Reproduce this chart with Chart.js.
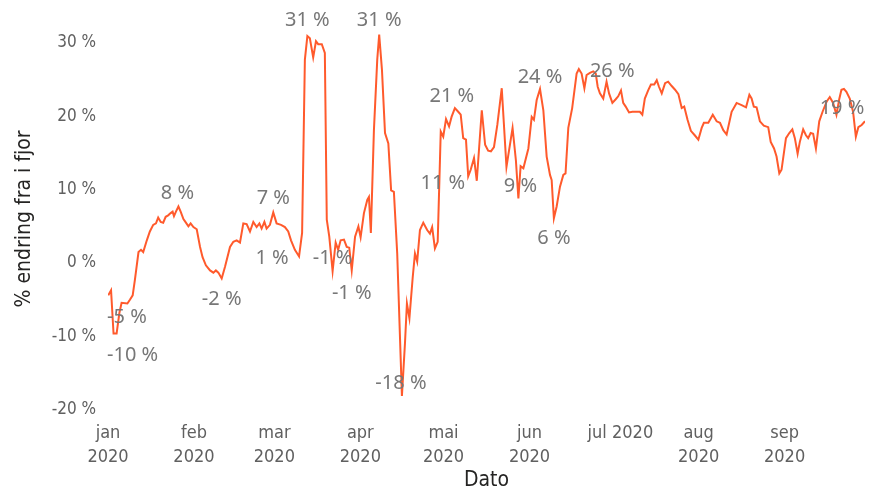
<!DOCTYPE html>
<html>
<head>
<meta charset="utf-8">
<script src="https://cdn.jsdelivr.net/npm/chart.js@4"></script>
<style>
  html, body { margin: 0; padding: 0; background: #fff; }
  #wrap { width: 870px; height: 493px; position: relative; }
</style>
</head>
<body>
<div id="wrap"><canvas id="lineChart"></canvas></div>
<script>
// day of year 2020 (0 = 1 jan) and % change from last year
const days = [0.1, 1.1, 2.0, 3.1, 4.1, 4.9, 7.0, 7.9, 8.9, 9.7, 11.0, 11.9, 12.7, 14.0, 15.1, 16.3, 17.3, 18.1, 19.0, 19.9,
  20.8, 21.7, 22.6, 23.3, 23.8, 24.5, 25.4, 26.2, 27.2, 28.1, 29.0, 29.8, 30.8, 32.0, 33.2, 34.1, 35.3, 36.8, 38.0, 38.9,
  39.8, 41.0, 42.2, 44.0, 45.2, 46.4, 47.6, 48.8, 50.0, 51.2, 52.4, 53.6, 54.6, 55.4, 56.4, 57.2, 58.4, 59.6, 60.8, 62.4,
  63.8, 65.0, 66.0, 67.4, 68.9, 70.0, 71.0, 71.9, 72.8, 74.0, 75.0, 75.8, 77.1, 78.2, 78.9, 79.8, 81.0, 82.1, 83.0, 83.9,
  85.1, 86.1, 87.0, 87.9, 89.1, 90.3, 91.1, 92.3, 93.5, 94.1, 94.8, 95.9, 97.1, 97.8, 98.8, 99.9, 101.1, 102.1, 103.1, 104.3,
  106.0, 107.1, 107.8, 108.7, 109.9, 110.7, 111.5, 112.5, 113.7, 115.1, 116.1, 116.9, 117.9, 118.9, 120.0, 120.9, 121.9, 123.0, 123.9, 125.1,
  126.3, 127.2, 128.1, 129.1, 129.9, 130.8, 132.0, 133.0, 134.8, 136.0, 137.1, 138.1, 139.2, 140.4, 142.0, 143.7, 145.9, 147.1, 148.0, 148.8,
  149.8, 151.6, 152.8, 153.6, 154.6, 155.8, 157.0, 158.2, 159.4, 160.0, 160.8, 161.8, 163.0, 164.2, 165.0, 166.0, 167.4, 169.0, 169.8, 170.8,
  171.8, 172.6, 173.8, 175.0, 175.9, 176.6, 177.4, 178.6, 179.8, 180.7, 181.9, 183.1, 184.0, 185.0, 185.8, 186.7, 187.9, 189.1, 190.6, 191.8,
  192.7, 193.6, 194.8, 195.8, 197.0, 197.9, 198.7, 199.7, 200.9, 202.0, 203.3, 204.5, 205.7, 206.9, 207.8, 209.0, 210.2, 211.6, 212.9, 214.1,
  214.9, 216.5, 218.1, 219.5, 220.7, 221.9, 223.1, 224.9, 226.7, 228.5, 230.1, 231.3, 232.1, 232.9, 233.9, 235.1, 236.5, 238.1, 239.0, 240.2,
  241.1, 242.1, 242.9, 244.5, 245.7, 246.8, 247.7, 248.7, 249.5, 250.7, 251.7, 252.5, 253.4, 254.3, 255.3, 256.5, 257.7, 259.2, 260.3, 261.5,
  262.7, 263.7, 264.5, 265.4, 266.3, 267.5, 268.7, 269.7, 270.6, 271.8, 273.0];

const change = [-4.4, -3.7, -9.6, -9.6, -6.8, -5.4, -5.5, -5.0, -4.4, -2.3, 1.5, 1.8, 1.5, 3.1, 4.3, 5.2, 5.4, 6.2, 5.6, 5.5,
  6.3, 6.5, 6.8, 7.0, 6.4, 7.0, 7.7, 7.0, 6.0, 5.5, 5.0, 5.4, 4.9, 4.6, 2.2, 0.8, -0.3, -1.0, -1.3, -1.0,
  -1.3, -2.1, -0.5, 2.2, 2.9, 3.1, 2.8, 5.4, 5.3, 4.3, 5.6, 4.9, 5.4, 4.7, 5.6, 4.7, 5.2, 6.9, 5.4, 5.2,
  4.9, 4.3, 3.1, 1.8, 0.9, 4.1, 27.7, 30.9, 30.6, 28.0, 30.2, 29.8, 29.8, 28.6, 5.9, 3.6, -1.1, 2.8, 1.8, 3.1,
  3.2, 2.2, 2.1, -1.0, 3.6, 5.0, 3.5, 6.8, 8.6, 9.0, 4.1, 18.1, 27.7, 31.1, 26.3, 17.7, 16.3, 9.9, 9.7, 1.3,
  -18.1, -10.9, -5.5, -7.5, -1.9, 1.3, 0.2, 4.5, 5.5, 4.5, 4.0, 4.9, 2.0, 2.9, 17.9, 17.2, 19.6, 18.6, 19.9, 21.1,
  20.6, 20.2, 17.0, 16.8, 11.8, 12.7, 14.3, 11.2, 20.8, 16.1, 15.3, 15.2, 15.8, 18.8, 23.8, 13.1, 18.4, 14.0, 8.8, 13.2,
  12.9, 15.6, 19.9, 19.5, 22.2, 23.7, 20.8, 14.5, 12.0, 11.3, 6.1, 7.7, 10.4, 12.0, 12.2, 18.4, 21.1, 25.8, 26.4, 25.8,
  23.8, 25.6, 25.9, 26.1, 25.8, 24.0, 23.1, 22.4, 24.7, 23.1, 21.8, 22.3, 22.7, 23.5, 21.8, 21.3, 20.5, 20.6, 20.6, 20.6,
  20.2, 22.4, 23.5, 24.3, 24.3, 24.9, 24.0, 23.1, 24.5, 24.7, 24.1, 23.6, 23.0, 21.1, 21.3, 19.5, 18.0, 17.4, 16.8, 18.4,
  19.1, 19.1, 20.2, 19.3, 19.1, 18.1, 17.5, 20.6, 21.8, 21.5, 21.2, 22.9, 22.4, 21.3, 21.2, 19.3, 18.7, 18.5, 16.5, 15.6,
  14.5, 12.2, 12.7, 17.0, 17.7, 18.2, 17.0, 14.9, 16.5, 18.2, 17.4, 17.0, 17.7, 17.6, 15.6, 19.3, 20.6, 22.0, 22.6, 21.8,
  20.2, 22.3, 23.6, 23.7, 23.3, 22.4, 20.6, 17.2, 18.5, 18.8, 19.3];

// month ticks
const monthStarts = [0, 31, 60, 91, 121, 152, 182, 213, 244];
const monthNames = ['jan', 'feb', 'mar', 'apr', 'mai', 'jun', 'jul', 'aug', 'sep'];
const yearLabel = '2020';

// which points get a data label, and where the label sits (px from the point)
const labelDays = [7.9, 3.1, 25.4, 41.0, 59.6, 68.9, 71.9, 81.0, 87.9, 97.8, 106.0, 133.0, 125.1, 148.0, 155.8, 160.8, 175.0, 273.0];
const labelShift = [[-3, 17], [16, 22], [-1, -13], [0, 21], [0, -14], [-27, 2], [0, -16], [0, -13], [0, 23], [0, -14],
  [-1, -13], [-34, 2], [-3, -12], [2, -12], [0, -12], [0, 20], [19, 0], [-23, -13]];

const axisFont = "'DejaVu Sans Condensed', 'Liberation Sans Narrow', sans-serif";

const points = days.map((d, i) => ({ x: d, y: change[i] }));

//draws the % labels next to the chosen points
const pointLabels = {
  id: 'pointLabels',
  afterDatasetsDraw(chart) {
    const c = chart.ctx;
    const meta = chart.getDatasetMeta(0);
    c.save();
    c.font = "20px 'Noto Sans', 'Open Sans', sans-serif";
    c.fillStyle = '#777777';
    c.textAlign = 'center';
    c.textBaseline = 'middle';
    labelDays.forEach((d, k) => {
      const i = days.indexOf(d);
      if (i < 0) return;
      const el = meta.data[i];
      c.fillText(Math.round(change[i]) + ' %', el.x + labelShift[k][0], el.y + labelShift[k][1]);
    });
    c.restore();
  }
};

const ctx = document.getElementById('lineChart').getContext('2d');
const myLineChart = new Chart(ctx, {
  type: 'line',
  data: {
    datasets: [{
      data: points,
      borderColor: '#FF5A2C',
      borderWidth: 2,
      pointRadius: 0,
      tension: 0,
      fill: false
    }]
  },
  options: {
    responsive: true,
    maintainAspectRatio: false,
    animation: false,
    layout: { padding: { top: 28, right: 5, left: 0, bottom: 0 } },
    plugins: {
      legend: { display: false },
      tooltip: { enabled: false }
    },
    scales: {
      x: {
        type: 'linear',
        min: 0,
        max: 273,
        grid: { display: false, drawTicks: false },
        border: { display: false },
        afterBuildTicks: (scale) => {
          scale.ticks = monthStarts.map(v => ({ value: v }));
        },
        afterFit: (scale) => { scale.height = 83; },
        ticks: {
          autoSkip: false,
          maxRotation: 0,
          padding: 12,
          color: '#606060',
          font: { family: axisFont, size: 18, lineHeight: 1.3 },
          callback: (v) => {
            const i = monthStarts.indexOf(v);
            if (i < 0) return '';
            if (monthNames[i] === 'jul') return '   ' + monthNames[i] + ' ' + yearLabel;
            return [monthNames[i], yearLabel];
          }
        },
        title: {
          display: true,
          text: 'Dato',
          color: '#252423',
          font: { family: axisFont, size: 21 },
          padding: { top: 0, bottom: 0 }
        }
      },
      y: {
        min: -20,
        max: 32,
        grid: { display: false, drawTicks: false },
        border: { display: false },
        afterBuildTicks: (scale) => {
          scale.ticks = [-20, -10, 0, 10, 20, 30].map(v => ({ value: v }));
        },
        afterFit: (scale) => { scale.width = 108; },
        ticks: {
          padding: 12,
          color: '#606060',
          font: { family: axisFont, size: 17 },
          callback: (v) => v + ' %'
        },
        title: {
          display: true,
          text: '% endring fra i fjor',
          color: '#252423',
          font: { family: axisFont, size: 21 },
          padding: { top: 12, bottom: 0 }
        }
      }
    }
  },
  plugins: [pointLabels]
});
</script>
</body>
</html>
